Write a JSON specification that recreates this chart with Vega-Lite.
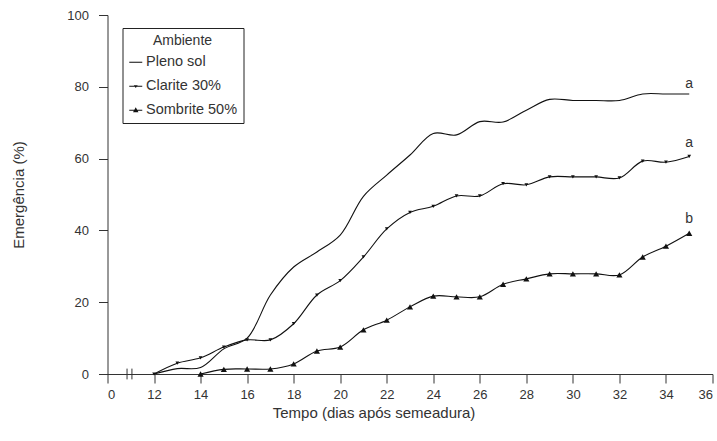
{
  "$schema": "https://vega.github.io/schema/vega-lite/v6.json",
  "width": 605,
  "height": 359,
  "autosize": {"type": "none"},
  "padding": {"left": 107.5, "top": 15, "right": 4.5, "bottom": 67},
  "background": "white",
  "config": {
    "view": {"stroke": null},
    "font": "Liberation Sans",
    "axis": {"grid": false, "domainColor": "#333", "tickColor": "#333", "labelColor": "#333", "titleColor": "#333", "labelFontSize": 13, "titleFontSize": 15, "titleFontWeight": "normal", "tickSize": 9, "labelFont": "Liberation Sans", "titleFont": "Liberation Sans"},
    "legend": {"labelFont": "Liberation Sans", "titleFont": "Liberation Sans"}
  },
  "datasets": {
    "emergencia": [
      {"series": "Pleno sol", "day": 12, "value": 0},
      {"series": "Pleno sol", "day": 13, "value": 1.5},
      {"series": "Pleno sol", "day": 14, "value": 1.8},
      {"series": "Pleno sol", "day": 15, "value": 7},
      {"series": "Pleno sol", "day": 16, "value": 10},
      {"series": "Pleno sol", "day": 17, "value": 22},
      {"series": "Pleno sol", "day": 18, "value": 29.8},
      {"series": "Pleno sol", "day": 19, "value": 34},
      {"series": "Pleno sol", "day": 20, "value": 38.7},
      {"series": "Pleno sol", "day": 21, "value": 49.5},
      {"series": "Pleno sol", "day": 22, "value": 55.4},
      {"series": "Pleno sol", "day": 23, "value": 61},
      {"series": "Pleno sol", "day": 24, "value": 67},
      {"series": "Pleno sol", "day": 25, "value": 66.6},
      {"series": "Pleno sol", "day": 26, "value": 70.3},
      {"series": "Pleno sol", "day": 27, "value": 70.2},
      {"series": "Pleno sol", "day": 28, "value": 73.5},
      {"series": "Pleno sol", "day": 29, "value": 76.5},
      {"series": "Pleno sol", "day": 30, "value": 76.2},
      {"series": "Pleno sol", "day": 31, "value": 76.2},
      {"series": "Pleno sol", "day": 32, "value": 76.2},
      {"series": "Pleno sol", "day": 33, "value": 78},
      {"series": "Pleno sol", "day": 34, "value": 78},
      {"series": "Pleno sol", "day": 35, "value": 78},
      {"series": "Clarite 30%", "day": 12, "value": 0},
      {"series": "Clarite 30%", "day": 13, "value": 3},
      {"series": "Clarite 30%", "day": 14, "value": 4.5},
      {"series": "Clarite 30%", "day": 15, "value": 7.5},
      {"series": "Clarite 30%", "day": 16, "value": 9.5},
      {"series": "Clarite 30%", "day": 17, "value": 9.5},
      {"series": "Clarite 30%", "day": 18, "value": 14},
      {"series": "Clarite 30%", "day": 19, "value": 22},
      {"series": "Clarite 30%", "day": 20, "value": 26},
      {"series": "Clarite 30%", "day": 21, "value": 32.6},
      {"series": "Clarite 30%", "day": 22, "value": 40.4},
      {"series": "Clarite 30%", "day": 23, "value": 45},
      {"series": "Clarite 30%", "day": 24, "value": 46.7},
      {"series": "Clarite 30%", "day": 25, "value": 49.6},
      {"series": "Clarite 30%", "day": 26, "value": 49.6},
      {"series": "Clarite 30%", "day": 27, "value": 53},
      {"series": "Clarite 30%", "day": 28, "value": 52.7},
      {"series": "Clarite 30%", "day": 29, "value": 54.9},
      {"series": "Clarite 30%", "day": 30, "value": 54.9},
      {"series": "Clarite 30%", "day": 31, "value": 54.9},
      {"series": "Clarite 30%", "day": 32, "value": 54.6},
      {"series": "Clarite 30%", "day": 33, "value": 59.3},
      {"series": "Clarite 30%", "day": 34, "value": 59},
      {"series": "Clarite 30%", "day": 35, "value": 60.6},
      {"series": "Sombrite 50%", "day": 14, "value": 0},
      {"series": "Sombrite 50%", "day": 15, "value": 1.3},
      {"series": "Sombrite 50%", "day": 16, "value": 1.4},
      {"series": "Sombrite 50%", "day": 17, "value": 1.4},
      {"series": "Sombrite 50%", "day": 18, "value": 2.8},
      {"series": "Sombrite 50%", "day": 19, "value": 6.4},
      {"series": "Sombrite 50%", "day": 20, "value": 7.5},
      {"series": "Sombrite 50%", "day": 21, "value": 12.3},
      {"series": "Sombrite 50%", "day": 22, "value": 15},
      {"series": "Sombrite 50%", "day": 23, "value": 18.7},
      {"series": "Sombrite 50%", "day": 24, "value": 21.7},
      {"series": "Sombrite 50%", "day": 25, "value": 21.5},
      {"series": "Sombrite 50%", "day": 26, "value": 21.5},
      {"series": "Sombrite 50%", "day": 27, "value": 25},
      {"series": "Sombrite 50%", "day": 28, "value": 26.5},
      {"series": "Sombrite 50%", "day": 29, "value": 27.9},
      {"series": "Sombrite 50%", "day": 30, "value": 27.9},
      {"series": "Sombrite 50%", "day": 31, "value": 27.9},
      {"series": "Sombrite 50%", "day": 32, "value": 27.6},
      {"series": "Sombrite 50%", "day": 33, "value": 32.6},
      {"series": "Sombrite 50%", "day": 34, "value": 35.6},
      {"series": "Sombrite 50%", "day": 35, "value": 39.2}
    ],
    "letters": [
      {"day": 35, "value": 80.8, "letter": "a"},
      {"day": 35, "value": 64.3, "letter": "a"},
      {"day": 35, "value": 43.2, "letter": "b"}
    ],
    "breakmarks": [
      {"day": 10.84, "low": -1.5, "high": 1.5},
      {"day": 11.05, "low": -1.5, "high": 1.5}
    ]
  },
  "layer": [
    {
      "data": {"name": "emergencia"},
      "mark": {"type": "line", "interpolate": "catmull-rom", "color": "#111", "strokeWidth": 1.1},
      "encoding": {
        "x": {"field": "day", "type": "quantitative", "scale": {"domain": [10, 36], "nice": false, "zero": false},
          "axis": {"values": [10, 12, 14, 16, 18, 20, 22, 24, 26, 28, 30, 32, 34, 36], "labelExpr": "datum.value == 10 ? '0' : datum.label", "title": "Tempo (dias após semeadura)", "titlePadding": 4, "titleX": 266, "labelPadding": 5}},
        "y": {"field": "value", "type": "quantitative", "scale": {"domain": [0, 100], "nice": false},
          "axis": {"values": [0, 20, 40, 60, 80, 100], "title": "Emergência (%)", "titlePadding": 40, "labelPadding": 10}},
        "detail": {"field": "series"}
      }
    },
    {
      "data": {"name": "emergencia"},
      "transform": [{"filter": "datum.series == 'Clarite 30%'"}],
      "mark": {"type": "point", "shape": "triangle-down", "size": 14, "filled": true, "color": "#111", "opacity": 1},
      "encoding": {
        "x": {"field": "day", "type": "quantitative"},
        "y": {"field": "value", "type": "quantitative"}
      }
    },
    {
      "data": {"name": "emergencia"},
      "transform": [{"filter": "datum.series == 'Sombrite 50%'"}],
      "mark": {"type": "point", "shape": "triangle-up", "size": 38, "filled": true, "color": "#111", "opacity": 1},
      "encoding": {
        "x": {"field": "day", "type": "quantitative"},
        "y": {"field": "value", "type": "quantitative"}
      }
    },
    {
      "data": {"name": "emergencia"},
      "mark": {"type": "point", "opacity": 0, "filled": true, "fill": "#111"},
      "encoding": {
        "x": {"field": "day", "type": "quantitative"},
        "y": {"field": "value", "type": "quantitative"},
        "shape": {
          "field": "series", "type": "nominal",
          "scale": {"domain": ["Pleno sol", "Clarite 30%", "Sombrite 50%"],
            "range": ["M-1,-0.08L1,-0.08L1,0.08L-1,0.08Z", "M-1,-0.08L1,-0.08L1,0.08L-1,0.08ZM-0.3,-0.15L0.3,-0.15L0,0.28Z", "M-1,-0.08L1,-0.08L1,0.08L-1,0.08ZM0,-0.45L0.42,0.3L-0.42,0.3Z"]},
          "legend": {
            "title": "Ambiente", "orient": "none", "legendX": 15, "legendY": 13,
            "strokeColor": "#222", "padding": 6,
            "titleFontSize": 14, "titleFontWeight": "normal", "titleColor": "#333", "titleAnchor": "middle", "titlePadding": 7,
            "labelFontSize": 14.5, "labelColor": "#333", "labelOffset": 3,
            "symbolSize": 169, "symbolFillColor": "#111", "symbolStrokeColor": "#111", "symbolStrokeWidth": 0, "symbolOpacity": 1,
            "rowPadding": 9
          }
        }
      }
    },
    {
      "data": {"name": "letters"},
      "mark": {"type": "text", "fontSize": 14, "color": "#333", "baseline": "middle", "align": "center"},
      "encoding": {
        "x": {"field": "day", "type": "quantitative"},
        "y": {"field": "value", "type": "quantitative"},
        "text": {"field": "letter"}
      }
    },
    {
      "data": {"name": "breakmarks"},
      "mark": {"type": "rule", "color": "#333", "strokeWidth": 1},
      "encoding": {
        "x": {"field": "day", "type": "quantitative"},
        "y": {"field": "low", "type": "quantitative"},
        "y2": {"field": "high"}
      }
    }
  ]
}
